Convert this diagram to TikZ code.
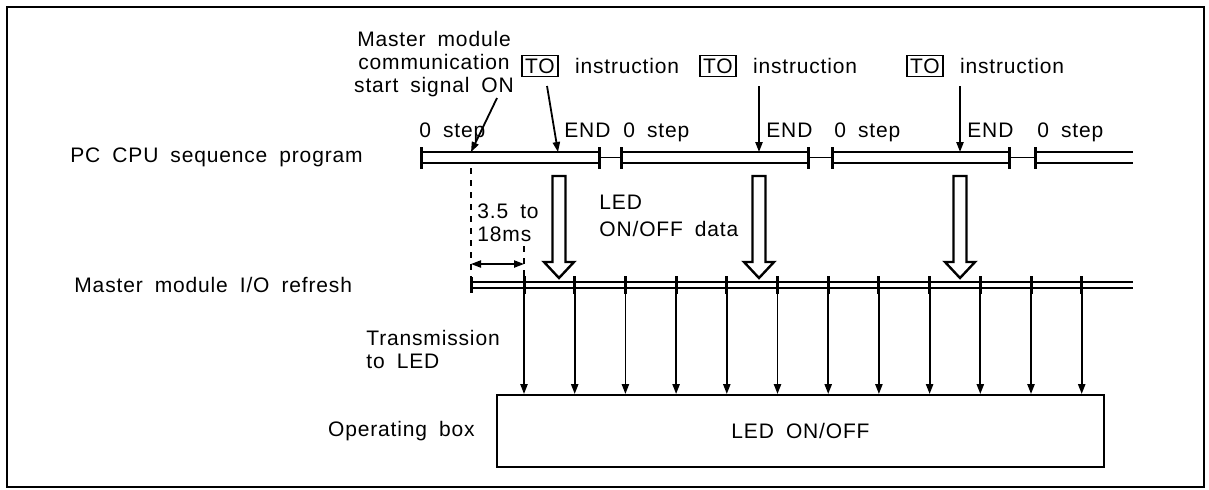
\documentclass[tikz,border=0pt]{standalone}
\usepackage{fontspec}
\setmainfont{Liberation Sans}[WordSpace=1.8, LetterSpace=4]
\usetikzlibrary{arrows.meta}

\begin{document}
\begin{tikzpicture}[
  x=0.5pt, y=-0.5pt,
  font=\fontsize{10.5}{11.5}\selectfont,
  >={Triangle[length=5pt,width=3.6pt]},
  frame/.style={draw, line width=1.2pt},
  rail/.style={line width=0.8pt},
  bar/.style={line width=1.5pt},
  tag/.style={inner sep=1pt, align=left},
  tobox/.style={draw, line width=0.8pt, inner sep=1.5pt},
  ar/.style={->, line width=0.9pt},
  dim/.style={<->, line width=0.8pt},
  guide/.style={dashed, line width=0.8pt},
  hollow/.style={draw, line width=1.2pt, fill=white, line join=miter},
  opbox/.style={draw, line width=1.2pt, minimum width=303.5pt,
                minimum height=36pt, inner sep=0pt}
]
\useasboundingbox (0,0) rectangle (1209,489);
\draw[frame] (7,7) rectangle (1204,487);

% ==== rail geometry
\def\ptop{152} \def\pbot{163} \def\pmid{157.5}   % program rail
\def\rtop{282} \def\rbot{288}                     % refresh rail

% ==== row captions
\node[tag, anchor=west] (pcl) at (68,157) {PC CPU sequence program};
\node[tag, anchor=west] (mml) at (72,285) {Master module I/O refresh};
\node[tag, anchor=west] (trl) at (364,349) {Transmission\\to LED};
\node[tag, anchor=east] (opl) at (477,431) {Operating box};

% ==== sequence program: scans and END processing
\foreach \a/\b in {421/599, 621/808, 832/1009} {
  \draw[rail] (\a,\ptop) -- (\b,\ptop) (\a,\pbot) -- (\b,\pbot);
  \draw[bar] (\a,147) -- (\a,169) (\b,147) -- (\b,169);
}
\foreach \a/\b in {599/621, 808/832, 1009/1035} { \draw[rail] (\a,\pmid) -- (\b,\pmid); }
\draw[rail] (1035,\ptop) -- (1133,\ptop) (1035,\pbot) -- (1133,\pbot);
\draw[bar] (1035,147) -- (1035,169);

\node[tag, anchor=base west] (st0) at (417,137) {0 step};
\foreach \e/\s/\i in {562/621/1, 764/832/2, 965/1035/3} {
  \node[tag, anchor=base west] (end\i) at (\e,137) {END};
  \node[tag, anchor=base west] (st\i) at (\s,137) {0 step};
}

% ==== start signal and TO instructions
\node[tag, align=center] (master) at (434,64) {Master module\\communication\\start signal ON};
\coordinate (sig) at (471,\ptop);
\draw[ar] (497,98) -- (sig);

\foreach \c/\i/\t/\x in {540/1/558/547, 718/2/759/759, 925/3/960/960} {
  \node[tobox] (to\i) at (\c,66) {TO};
  \node[tag, anchor=west] (inst\i) at ([xshift=7pt]to\i.east) {instruction};
  \coordinate (hit\i) at (\t,\ptop);
  \draw[ar] (\x,86) -- (hit\i);
}

% ==== data handed to the master module
\foreach \c in {559, 759, 960} {
  \draw[hollow] ({\c-6.5},176) -- ({\c-6.5},262) -- ({\c-15},262) -- (\c,278)
                -- ({\c+15},262) -- ({\c+6.5},262) -- ({\c+6.5},176) -- cycle;
}
\node[tag] (data) at (597,216) [anchor=west] {LED\\[2pt]ON/OFF data};

% ==== I/O refresh of the master module
\draw[rail] (471,\rtop) -- (1133,\rtop) (471,\rbot) -- (1133,\rbot);
\draw[bar] (471,277) -- (471,293);
\draw[guide] (sig) ++(0,16) -- (471,\rtop);
\draw[guide] (524,246) -- (524,\rtop);
\draw[dim] (471,264) -- (524,264);
\node[tag, anchor=west] (cyc) at (475,223) {3.5 to\\18ms};

% ==== transmission to the operating box
\node[opbox] (box) at (800.5,431) {LED ON/OFF};
\foreach \k in {0,...,11} {
  \pgfmathsetmacro{\xk}{524+50.7*\k}
  \draw[bar] (\xk,276) -- (\xk,294);
  \draw[ar] (\xk,294) -- (\xk,394);
}
\end{tikzpicture}
\end{document}
